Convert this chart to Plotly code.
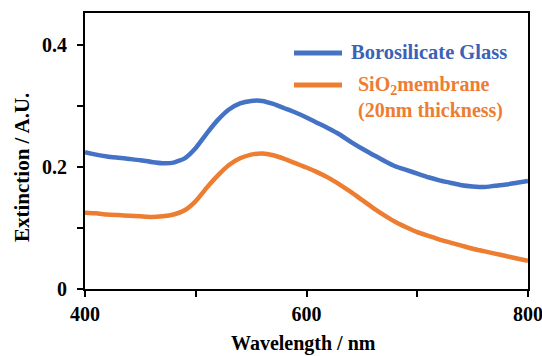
import plotly.graph_objects as go

wavelength = list(range(400, 801, 10))
borosilicate = [0.224, 0.220, 0.217, 0.215, 0.213, 0.211, 0.208, 0.206, 0.207, 0.214,
                0.231, 0.255, 0.277, 0.294, 0.304, 0.308, 0.308, 0.303, 0.296, 0.289,
                0.281, 0.272, 0.263, 0.253, 0.241, 0.230, 0.220, 0.210, 0.201, 0.195,
                0.189, 0.183, 0.178, 0.174, 0.170, 0.168, 0.167, 0.169, 0.171, 0.174, 0.177]
sio2 = [0.125, 0.124, 0.122, 0.121, 0.120, 0.119, 0.118, 0.119, 0.122, 0.129,
        0.144, 0.166, 0.186, 0.203, 0.214, 0.220, 0.222, 0.219, 0.213, 0.206,
        0.199, 0.191, 0.182, 0.171, 0.159, 0.146, 0.133, 0.121, 0.110, 0.101,
        0.093, 0.087, 0.081, 0.076, 0.071, 0.066, 0.062, 0.058, 0.054, 0.050, 0.046]

x_tickvals = [400, 600, 800]
x_ticktext = ["<b>400</b>", "<b>600</b>", "<b>800</b>"]
y_tickvals = [0, 0.2, 0.4]
y_ticktext = ["<b>0</b>", "<b>0.2</b>", "<b>0.4</b>"]

BLUE = "#4472C4"
ORANGE = "#ED7D31"
FONT = "Liberation Serif"

fig = go.Figure()
fig.add_trace(go.Scatter(x=wavelength, y=borosilicate, mode="lines",
                         line=dict(color=BLUE, width=4.5, shape="spline", smoothing=0.5), showlegend=False))
fig.add_trace(go.Scatter(x=wavelength, y=sio2, mode="lines",
                         line=dict(color=ORANGE, width=4.5, shape="spline", smoothing=0.5), showlegend=False))

L, R, T, B = 85, 14, 13, 67
W, H = 542, 356
pw, ph = W - L - R, H - T - B
def px(x): return (x - L) / pw
def py(y): return (H - B - y) / ph

fig.add_shape(type="line", xref="paper", yref="paper", x0=px(294), x1=px(342), y0=py(53), y1=py(53),
              line=dict(color=BLUE, width=5))
fig.add_shape(type="line", xref="paper", yref="paper", x0=px(294), x1=px(342), y0=py(85), y1=py(85),
              line=dict(color=ORANGE, width=5))
fig.add_annotation(xref="paper", yref="paper", x=px(349), y=py(52), xanchor="left", yanchor="middle",
                   text="<b>Borosilicate Glass</b>", showarrow=False,
                   font=dict(family=FONT, size=20.5, color="#3A62B5"))
fig.add_annotation(xref="paper", yref="paper", x=px(356), y=py(97), xanchor="left", yanchor="middle",
                   text="<b>SiO<sub>2</sub>membrane<br>(20nm thickness)</b>", showarrow=False, align="left",
                   font=dict(family=FONT, size=20, color=ORANGE))
fig.add_annotation(xref="paper", yref="paper", x=px(22), y=py(168), xanchor="center", yanchor="middle",
                   text="<b>Extinction / A.U.</b>", textangle=-90, showarrow=False,
                   font=dict(family=FONT, size=21, color="black"))
fig.add_annotation(xref="paper", yref="paper", x=px(303), y=py(343), xanchor="center", yanchor="middle",
                   text="<b>Wavelength / nm</b>", showarrow=False,
                   font=dict(family=FONT, size=20, color="black"))

axis_common = dict(showline=True, linecolor="black", linewidth=2, mirror=True,
                   ticks="outside", ticklen=6, tickwidth=1.5, tickcolor="black",
                   showgrid=False, zeroline=False, automargin=False,
                   ticklabeloverflow="allow",
                   tickfont=dict(family=FONT, size=20, color="black"))
fig.update_xaxes(range=[400, 800], tickvals=x_tickvals, ticktext=x_ticktext,
                 minor=dict(tickvals=[500, 700], ticks="outside", ticklen=6, tickwidth=1.5, tickcolor="black"),
                 **axis_common)
fig.update_yaxes(range=[0, 0.452], tickvals=y_tickvals, ticktext=y_ticktext, ticklabelstandoff=6,
                 minor=dict(tickvals=[0.1, 0.3], ticks="outside", ticklen=6, tickwidth=1.5, tickcolor="black"),
                 **axis_common)

fig.update_layout(width=W, height=H, margin=dict(l=L, r=R, t=T, b=B),
                  plot_bgcolor="white", paper_bgcolor="white",
                  font=dict(family=FONT, color="black"))
fig.write_html("out.html")
